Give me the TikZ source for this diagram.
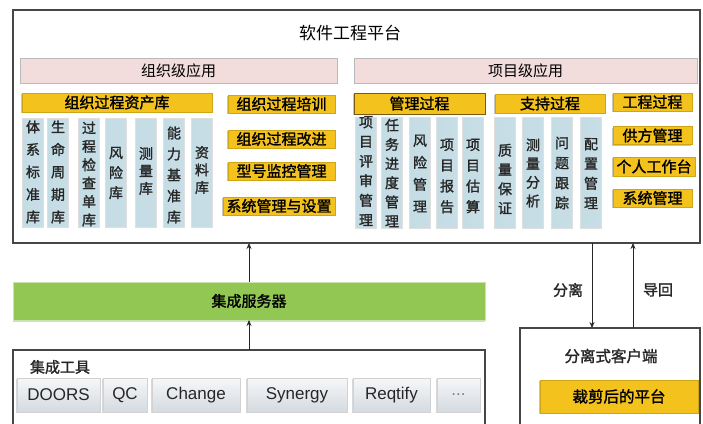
\documentclass[tikz,border=0pt]{standalone}
\usepackage{fontspec}
\setmainfont{Noto Sans CJK SC}[AutoFakeBold=1.5]
\newfontfamily\latinfont{Liberation Sans}
\usetikzlibrary{shadows,arrows.meta}
\definecolor{pinkf}{RGB}{242,221,220}
\definecolor{pinkd}{RGB}{185,185,190}
\definecolor{gold}{RGB}{244,194,28}
\definecolor{goldd}{RGB}{120,90,20}
\definecolor{colL}{RGB}{196,220,228}
\definecolor{colM}{RGB}{226,239,243}
\definecolor{colR}{RGB}{200,222,230}
\definecolor{grn}{RGB}{146,199,84}
\definecolor{grnd}{RGB}{200,228,170}
\definecolor{toolT}{RGB}{246,247,249}
\definecolor{toolB}{RGB}{212,218,224}
\definecolor{frame}{RGB}{70,70,70}
\tikzset{
  box/.style={rectangle, inner sep=0pt, outer sep=0pt},
  frm/.style={box, draw=frame, line width=1.1pt, fill=white},
  pinkbar/.style={box, draw=pinkd, line width=0.9pt, fill=pinkf, font=\fontsize{15}{15}\selectfont},
  ybox/.style={box, fill=gold, draw=gold!85!black, line width=0.4pt,
     drop shadow={shadow xshift=-1pt, shadow yshift=-1.2pt, opacity=.45},
     font=\fontsize{15}{15}\selectfont\bfseries},
  colbox/.style={box, draw=gray!25, line width=0.4pt, left color=colL, middle color=colM, right color=colR},
  ct/.style={box, align=center, font=\fontsize{14}{#1}\selectfont\bfseries, text=black!85},
  toolbtn/.style={box, draw=gray!35, line width=0.5pt, top color=toolT, bottom color=toolB,
     drop shadow={shadow xshift=-1.2pt, shadow yshift=-1pt, opacity=.3},
     font=\latinfont\fontsize{17}{17}\selectfont, text=black!85},
  arr/.style={-{Stealth[length=6pt,width=5pt]}, line width=0.8pt, draw=black!85},
  lbl/.style={box, font=\fontsize{15}{15}\selectfont\bfseries, text=black!85}
}
\begin{document}
\begin{tikzpicture}[x=1pt,y=-1pt]
\clip (0,0) rectangle (703,423);
\fill[white] (0,0) rectangle (703,423);
\useasboundingbox (0,0) rectangle (703,423);
% main platform
\node[frm, minimum width=687, minimum height=233] (main) at (356.5,126.5) {};
\node[box, font=\fontsize{17}{17}\selectfont] (title) at (350,33) {软件工程平台};
% org level
\node[pinkbar, minimum width=317, minimum height=25] (orgapp) at (178.5,70.5) {组织级应用};
\node[pinkbar, minimum width=343, minimum height=25] (projapp) at (525.5,70.5) {项目级应用};
\node[ybox, minimum width=190, minimum height=19] (asset) at (117,102.5) {组织过程资产库};
\node[ybox, minimum width=107, minimum height=18] (train) at (281.5,104) {组织过程培训};
\node[ybox, minimum width=107, minimum height=18] (improve) at (281.5,139) {组织过程改进};
\node[ybox, minimum width=107, minimum height=18] (monitor) at (281.5,171) {型号监控管理};
\node[ybox, minimum width=112, minimum height=18] (sysset) at (279,206) {系统管理与设置};
% org columns
\foreach \n/\x in {o1/33,o2/58,o3/89,o4/116,o5/146,o6/174,o7/202}{
  \node[colbox, minimum width=21, minimum height=109] (\n) at (\x,172.5) {};
}
\node[ct=22.5] at (33,172) {体\\系\\标\\准\\库};
\node[ct=22.5] at (58,172) {生\\命\\周\\期\\库};
\node[ct=18.4] at (89,174) {过\\程\\检\\查\\单\\库};
\node[ct=20] at (116,173) {风\\险\\库};
\node[ct=17.5] at (146,171) {测\\量\\库};
\node[ct=21] at (174,175) {能\\力\\基\\准\\库};
\node[ct=17.5] at (202,170) {资\\料\\库};
% project level
\node[ybox, draw=goldd, line width=0.9pt, minimum width=131, minimum height=21] (mgmt) at (419.5,103.5) {管理过程};
\node[ybox, minimum width=110, minimum height=19] (support) at (550,103.5) {支持过程};
\node[ybox, minimum width=79, minimum height=18] (eng) at (652.5,102) {工程过程};
\node[ybox, minimum width=79, minimum height=18] (supplier) at (652.5,135.5) {供方管理};
\node[ybox, minimum width=82, minimum height=19] (personal) at (654,166.5) {个人工作台};
\node[ybox, minimum width=79, minimum height=18] (sysmgmt) at (652.5,198) {系统管理};
\foreach \n/\x in {p1/366,p2/392,p3/420,p4/447,p5/473,p6/505,p7/533,p8/562,p9/591}{
  \node[colbox, minimum width=21, minimum height=111] (\n) at (\x,172.5) {};
}
\node[ct=19.6] at (366,171) {项\\目\\评\\审\\管\\理};
\node[ct=19.2] at (392,173) {任\\务\\进\\度\\管\\理};
\node[ct=22] at (420,173.5) {风\\险\\管\\理};
\node[ct=20.7] at (447,176) {项\\目\\报\\告};
\node[ct=20.7] at (473,176) {项\\目\\估\\算};
\node[ct=19.3] at (505,179) {质\\量\\保\\证};
\node[ct=18.7] at (533,173) {测\\量\\分\\析};
\node[ct=20] at (562,173) {问\\题\\跟\\踪};
\node[ct=19.7] at (591,173.5) {配\\置\\管\\理};
% integration server
\node[box, fill=grn, draw=grnd, line width=1pt, minimum width=472, minimum height=38,
      drop shadow={shadow xshift=0pt, shadow yshift=-1.5pt, opacity=.3},
      font=\fontsize{15}{15}\selectfont\bfseries] (server) at (249,301) {集成服务器};
% tools
\node[frm, minimum width=472, minimum height=90] (tools) at (249,395) {};
\node[box, font=\fontsize{15}{15}\selectfont\bfseries, text=black!85] (toolslbl) at (60,367) {集成工具};
\node[toolbtn, minimum width=83, minimum height=34] (doors) at (58.5,395) {DOORS};
\node[toolbtn, minimum width=44, minimum height=34] (qc) at (125,395) {QC};
\node[toolbtn, minimum width=88, minimum height=34] (change) at (196,395) {Change};
\node[toolbtn, minimum width=100, minimum height=34] (synergy) at (297,395) {Synergy};
\node[toolbtn, minimum width=77, minimum height=34] (reqtify) at (391.5,395) {Reqtify};
\node[toolbtn, minimum width=43, minimum height=34, text=gray] (more) at (458.5,395) {...};
% client
\node[frm, minimum width=180, minimum height=112] (client) at (610,384) {};
\node[box, font=\fontsize{15.5}{15.5}\selectfont\bfseries, text=black!85] (clientlbl) at (611,356) {分离式客户端};
\node[ybox, minimum width=158, minimum height=33, font=\fontsize{15.5}{15.5}\selectfont\bfseries] (cut) at (619,396.5) {裁剪后的平台};
% connectors
\draw[arr] (server.north) -- (server.north |- main.south);
\draw[arr] (tools.north) -- (server.south);
\coordinate (sx) at (592,0);
\coordinate (bx) at (633,0);
\draw[arr] (sx |- main.south) -- (sx |- client.north);
\draw[arr] (bx |- client.north) -- (bx |- main.south);
\node[lbl] (fenli) at (568,290) {分离};
\node[lbl] (daohui) at (658,290) {导回};
\end{tikzpicture}
\end{document}
